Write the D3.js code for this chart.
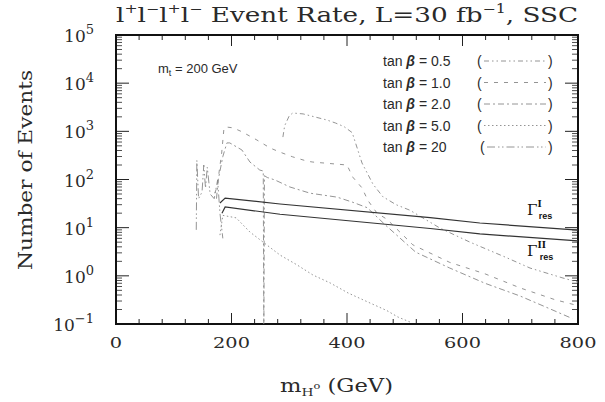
<!DOCTYPE html>
<html><head><meta charset="utf-8">
<script src="https://cdn.jsdelivr.net/npm/d3@7"></script>
<style>body{margin:0;background:#fff}</style>
</head><body><svg id="c" width="605" height="402"></svg>
<script>
// ---------- data ----------
const xTicks = [0, 200, 400, 600, 800];
const yDecades = [-1, 0, 1, 2, 3, 4, 5];
const tanBetaLabels = ["0.5", "1.0", "2.0", "5.0", "20"];

const massTb05 = [289, 292, 300, 306, 324, 365, 380, 395, 409, 426, 445, 462, 485, 509, 561, 613, 674, 717, 774, 800];
const rateTb05 = [760, 1300, 2100, 2400, 2300, 1720, 1490, 1250, 940, 220, 80, 44, 30, 23, 9.8, 5.0, 2.45, 1.45, 0.9, 0.74];

const massTb1 = [171, 175, 183, 187, 191, 203, 218, 244, 267, 284, 306, 331, 341, 400, 410, 426, 436, 452, 469, 514, 578, 639, 700, 760, 800];
const rateTb1 = [52, 70, 355, 1180, 1230, 1180, 980, 660, 450, 370, 295, 240, 230, 200, 112, 67, 37, 20, 15, 4.4, 1.9, 1.1, 0.56, 0.32, 0.24];

const massTb2 = [174, 177, 185, 192, 197, 218, 232, 249, 255, 256, 257, 262, 275, 301, 336, 383, 409, 435, 466, 519, 578, 639, 700, 750, 790];
const rateTb2 = [40, 98, 300, 575, 575, 410, 230, 157, 150, 0.05, 120, 110, 98, 70, 52, 43, 34, 26, 11.5, 3.1, 1.45, 0.7, 0.38, 0.21, 0.13];

const massTb5 = [180, 185, 208, 232, 284, 313, 341, 371, 402, 435, 469, 488, 509];
const rateTb5 = [7, 18, 16, 8.1, 2.7, 1.7, 1.04, 0.71, 0.44, 0.29, 0.19, 0.14, 0.11];

const massTb20 = [139, 140, 143, 149, 152, 155, 158, 163, 170, 176, 180, 185];
const rateTb20 = [9, 250, 40, 55, 200, 66, 180, 50, 40, 98, 20, 6];

const massResI = [180, 189, 284, 544, 630, 800];
const rateResI = [32.5, 41, 31, 16.2, 12.5, 8.9];
const massResII = [183.5, 189, 284, 544, 630, 800];
const rateResII = [20, 27, 19, 9.6, 7.4, 5.3];

// ---------- layout ----------
const svg = d3.select("#c");
const L = 116, R = 578, T = 35, B = 324;
const x = d3.scaleLinear().domain([0, 800]).range([L, R]);
const y = d3.scaleLog().domain([0.1, 1e5]).range([B, T]);

const serif = "'DejaVu Serif', serif";
const sans = "'Liberation Sans', Arial, sans-serif";
const ink = "#2a2a2a";

svg.append("defs").append("clipPath").attr("id", "clip")
  .append("rect").attr("x", L).attr("y", T).attr("width", R - L).attr("height", B - T);

// ticks
const g = svg.append("g").attr("stroke", "#222").attr("fill", "none");
const minorX = d3.range(0, 801, 40).filter(v => v % 200 !== 0);
minorX.forEach(v => {
  g.append("line").attr("x1", x(v)).attr("x2", x(v)).attr("y1", B).attr("y2", B - 5).attr("stroke-width", 1);
  g.append("line").attr("x1", x(v)).attr("x2", x(v)).attr("y1", T).attr("y2", T + 5).attr("stroke-width", 1);
});
xTicks.forEach(v => {
  g.append("line").attr("x1", x(v)).attr("x2", x(v)).attr("y1", B).attr("y2", B - 11).attr("stroke-width", 1);
  g.append("line").attr("x1", x(v)).attr("x2", x(v)).attr("y1", T).attr("y2", T + 11).attr("stroke-width", 1);
});
yDecades.forEach(d => {
  const base = Math.pow(10, d);
  g.append("line").attr("x1", L).attr("x2", L + 13).attr("y1", y(base)).attr("y2", y(base)).attr("stroke-width", 1);
  g.append("line").attr("x1", R).attr("x2", R - 13).attr("y1", y(base)).attr("y2", y(base)).attr("stroke-width", 1);
  if (d < 5) {
    for (let k = 2; k <= 9; k++) {
      const v = k * base;
      g.append("line").attr("x1", L).attr("x2", L + 6).attr("y1", y(v)).attr("y2", y(v)).attr("stroke-width", 0.8);
      g.append("line").attr("x1", R).attr("x2", R - 6).attr("y1", y(v)).attr("y2", y(v)).attr("stroke-width", 0.8);
    }
  }
});

// frame
svg.append("rect").attr("x", L).attr("y", T).attr("width", R - L).attr("height", B - T)
  .attr("fill", "none").attr("stroke", "#111").attr("stroke-width", 2);

// x tick labels
svg.selectAll(".xl").data(xTicks).enter().append("text")
  .attr("x", d => x(d)).attr("y", 348).attr("text-anchor", "middle")
  .attr("font-family", serif).attr("font-size", 15).attr("fill", ink)
  .attr("textLength", d => String(d).length * 12.3).attr("lengthAdjust", "spacingAndGlyphs")
  .text(d => d);

// y tick labels
yDecades.forEach(d => {
  const t = svg.append("text").attr("x", 94).attr("y", y(Math.pow(10, d)) + 7)
    .attr("text-anchor", "end").attr("font-family", serif).attr("fill", ink);
  t.append("tspan").attr("font-size", 17).text("10");
  t.append("tspan").attr("font-size", 13).attr("dy", -8).text(d < 0 ? "\u2212" + (-d) : d);
});

// axis titles
svg.append("text").attr("transform", "translate(32,170) rotate(-90)").attr("text-anchor", "middle")
  .attr("font-family", serif).attr("font-size", 19).attr("fill", ink)
  .attr("textLength", 200).attr("lengthAdjust", "spacingAndGlyphs").text("Number of Events");

const xt = svg.append("text").attr("x", 280).attr("y", 392)
  .attr("font-family", serif).attr("font-size", 18).attr("fill", ink)
  .attr("textLength", 113).attr("lengthAdjust", "spacingAndGlyphs");
xt.append("tspan").text("m");
xt.append("tspan").attr("font-size", 11).attr("dy", 4).text("H");
xt.append("tspan").attr("font-size", 9).attr("dy", -7).text("o");
xt.append("tspan").attr("dy", 3).text(" (GeV)");

// title
const tt = svg.append("text").attr("x", 116).attr("y", 22).attr("font-family", serif)
  .attr("font-size", 20).attr("fill", ink).attr("textLength", 462).attr("lengthAdjust", "spacingAndGlyphs");
[["l", 0], ["+", 1], ["l", 0], ["\u2212", 1], ["l", 0], ["+", 1], ["l", 0], ["\u2212", 1], ["  Event Rate, L=30 fb", 0], ["\u22121", 1], [", SSC", 0]]
  .forEach(([s, sup], i, arr) => {
    const prevSup = i > 0 ? arr[i - 1][1] : 0;
    const sp = tt.append("tspan").text(s);
    if (sup) sp.attr("font-size", 12).attr("dy", prevSup ? 0 : -9);
    else if (prevSup) sp.attr("dy", 9);
  });

// curves
const plot = svg.append("g").attr("clip-path", "url(#clip)");
const line = d3.line().x(d => x(d[0])).y(d => y(d[1]));
const zip = (m, r) => m.map((v, i) => [v, r[i]]);

const dashes = ["5,3,1.5,3,1.5,3", "4,6", "6,3,2,3", "1.5,2.5", "8,3,1.5,2.5,1.5,3"];
const series = [
  zip(massTb05, rateTb05), zip(massTb1, rateTb1), zip(massTb2, rateTb2),
  zip(massTb5, rateTb5), zip(massTb20, rateTb20)
];
series.forEach((s, i) => {
  plot.append("path").datum(s).attr("d", line).attr("fill", "none")
    .attr("stroke", "#888").attr("stroke-width", 0.9).attr("stroke-dasharray", dashes[i]);
});
[zip(massResI, rateResI), zip(massResII, rateResII)].forEach(s => {
  plot.append("path").datum(s).attr("d", line).attr("fill", "none")
    .attr("stroke", "#333").attr("stroke-width", 1.2);
});

// legend
const rowY = [61, 82.5, 104, 125.5, 147];
tanBetaLabels.forEach((lab, i) => {
  const t = svg.append("text").attr("x", 383).attr("y", rowY[i] + 5)
    .attr("font-family", sans).attr("font-size", 14).attr("fill", ink);
  t.append("tspan").text("tan ");
  t.append("tspan").attr("font-weight", "bold").attr("font-style", "italic").text("\u03B2");
  t.append("tspan").text(" = " + lab);
  const x0 = i === 4 ? 480 : 477;
  svg.append("text").attr("x", x0).attr("y", rowY[i] + 5).attr("font-family", sans)
    .attr("font-size", 14).attr("fill", ink).text("(");
  svg.append("text").attr("x", 548).attr("y", rowY[i] + 5).attr("font-family", sans)
    .attr("font-size", 14).attr("fill", ink).text(")");
  svg.append("line").attr("x1", x0 + 7).attr("x2", 546).attr("y1", rowY[i]).attr("y2", rowY[i])
    .attr("stroke", "#888").attr("stroke-width", 0.9).attr("stroke-dasharray", dashes[i]);
});

// m_t annotation
const mt = svg.append("text").attr("x", 158).attr("y", 73).attr("font-family", sans)
  .attr("font-size", 13).attr("fill", ink);
mt.append("tspan").text("m");
mt.append("tspan").attr("font-size", 9).attr("dy", 3).text("t");
mt.append("tspan").attr("dy", -3).text(" = 200  GeV");

// Gamma labels
function gammaLabel(xp, yp, sup) {
  const t = svg.append("text").attr("x", xp).attr("y", yp).attr("font-family", serif)
    .attr("font-size", 15).attr("fill", "#111");
  t.append("tspan").text("\u0393");
  t.append("tspan").attr("font-size", 9).attr("font-weight", "bold").attr("dy", -8).attr("dx", 0).text(sup);
  t.append("tspan").attr("font-family", sans).attr("font-size", 9).attr("font-weight", "bold")
    .attr("dy", 12).attr("dx", sup === "I" ? -3 : -6).text("res");
}
gammaLabel(527, 215, "I");
gammaLabel(527, 256, "II");
</script>
</body></html>
